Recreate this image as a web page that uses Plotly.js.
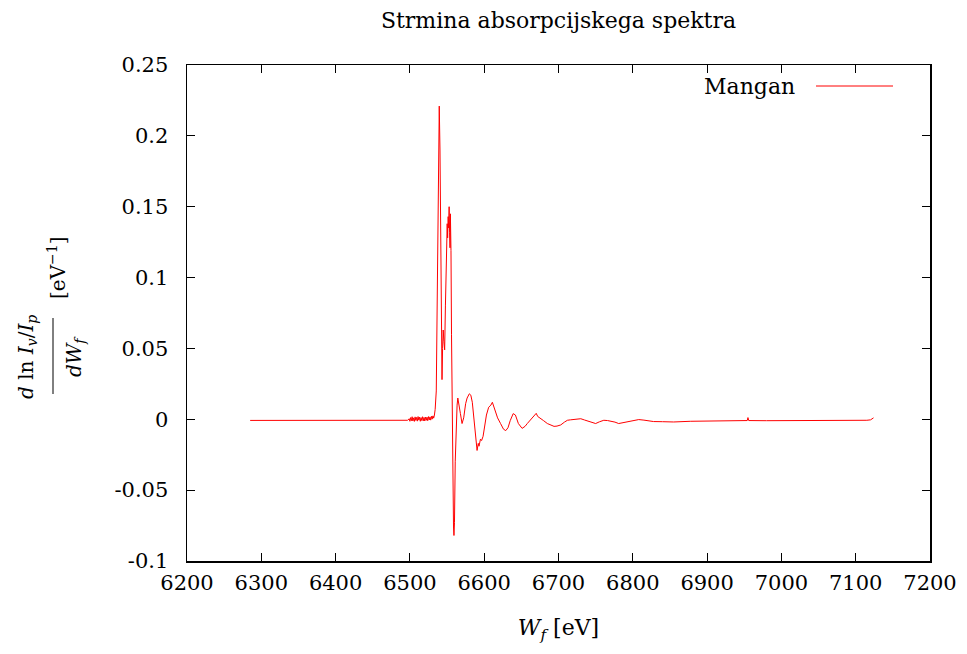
<!DOCTYPE html>
<html>
<head>
<meta charset="utf-8">
<script src="https://cdn.plot.ly/plotly-3.0.1.min.js"></script>
<style>html,body{margin:0;padding:0;background:#fff;}#chart{width:967px;height:654px;}</style>
</head>
<body>
<div id="chart"></div>
<script>
// Photon energy W_f [eV]
const energy = [
  6285, 6350, 6420, 6480, 6497,
  6499, 6500, 6501, 6502, 6503, 6504, 6505, 6506, 6507, 6508, 6509, 6510, 6511, 6512, 6513, 6514,
  6515, 6516, 6517, 6518, 6519, 6520, 6521, 6522, 6523, 6524, 6525, 6526, 6527, 6528, 6529, 6530,
  6531, 6532, 6533, 6534, 6535.5, 6537, 6538.5, 6539.5, 6540.5, 6541.5, 6542.5, 6543.2, 6544, 6544.8, 6545.8,
  6546.8, 6547.8, 6548.7, 6549.5, 6550.2, 6550.8, 6551.5, 6552.2, 6552.8, 6553.4, 6554.0, 6554.5,
  6555.3, 6556.0, 6557.0, 6558.0, 6558.7, 6559.3, 6560.0, 6561.0, 6562.0, 6563.5, 6564.5, 6566.0,
  6568, 6570.2, 6572.4, 6575, 6577, 6580, 6582, 6584, 6586.8, 6588.5, 6590.4, 6592, 6593, 6595,
  6596.5, 6598.5, 6601, 6603, 6606, 6609, 6611, 6613, 6615, 6618, 6622, 6626, 6629, 6632, 6635,
  6639, 6642, 6646, 6651, 6655, 6658, 6664.6, 6668, 6670, 6672, 6676, 6680, 6685, 6690, 6694,
  6698, 6703, 6708, 6712, 6716, 6721, 6725, 6730, 6735, 6739, 6744, 6750, 6755, 6761, 6766, 6771,
  6776, 6781, 6787, 6793, 6800, 6808, 6815, 6828, 6840, 6855, 6878, 6900, 6918, 6940, 6954, 6955,
  6956, 6980, 7000, 7030, 7053, 7080, 7100, 7115, 7120, 7124
];
// Slope of the absorption spectrum d ln(Iv/Ip)/dWf [1/eV] for manganese
const mangan = [
  -0.0008, -0.0008, -0.0009, -0.0008, -0.0007,
  0.0004, -0.0014, 0.0012, -0.0010, 0.0018, -0.0012, 0.0010, -0.0015, 0.0017, -0.0008, 0.0013, -0.0013, 0.0019, -0.0006, 0.0015, -0.0014,
  0.0012, -0.0009, 0.0018, -0.0011, 0.0013, -0.0012, 0.0016, -0.0007, 0.0015, -0.0010, 0.0019, -0.0005, 0.0017, -0.0006, 0.0021, 0.0001,
  0.0024, 0.0008, 0.0030, 0.0070, 0.020, 0.080, 0.180, 0.221, 0.190, 0.100, 0.045, 0.028, 0.050, 0.063, 0.055,
  0.049, 0.080, 0.112, 0.125, 0.138, 0.128, 0.143, 0.135, 0.150, 0.132, 0.121, 0.145,
  0.119, 0.060, -0.020, -0.068, -0.076, -0.082, -0.073, -0.030, -0.003, 0.010, 0.015, 0.011,
  0.004, -0.003, 0.001, 0.011, 0.015, 0.018, 0.017, 0.012, -0.003, -0.016, -0.022, -0.017, -0.019, -0.014,
  -0.015, -0.012, -0.002, 0.003, 0.0085, 0.010, 0.012, 0.009, 0.006, 0.001, -0.003, -0.007, -0.008, -0.006, -0.001,
  0.004, 0.003, -0.003, -0.0064, -0.005, -0.003, 0.0014, 0.003, 0.0042, 0.002, 0.0007, -0.001, -0.003, -0.004, -0.005,
  -0.0048, -0.004, -0.002, -0.0007, -0.0004, 0.0, 0.0005, 0.0004, -0.0005, -0.0012, -0.0022, -0.003, -0.0018, -0.0007, -0.0009, -0.0012,
  -0.002, -0.003, -0.0024, -0.0016, -0.0008, -0.0002, -0.0006, -0.0016, -0.0017, -0.0019, -0.0014, -0.0013, -0.0011, -0.0011, -0.0009, 0.0012,
  -0.0009, -0.0010, -0.0010, -0.0009, -0.0009, -0.0008, -0.0007, -0.0007, -0.0004, 0.0010
];
const xTickVals = [6200, 6300, 6400, 6500, 6600, 6700, 6800, 6900, 7000, 7100, 7200];
const xTickText = ["6200", "6300", "6400", "6500", "6600", "6700", "6800", "6900", "7000", "7100", "7200"];
const yTickVals = [-0.1, -0.05, 0, 0.05, 0.1, 0.15, 0.2, 0.25];
const yTickText = ["-0.1", "-0.05", "0", "0.05", "0.1", "0.15", "0.2", "0.25"];
const seriesName = "Mangan";
const chartTitle = "Strmina absorpcijskega spektra";

const FONT = "DejaVu Serif, Liberation Serif, serif";
const L = 187, R = 930, T = 65, B = 561;
const px = v => (v - L) / (R - L);
const py = v => (B - v) / (B - T);

const trace = {
  x: energy, y: mangan, type: "scatter", mode: "lines", name: seriesName,
  line: {color: "#ff0000", width: 1}, showlegend: false
};

const axisCommon = {
  showgrid: false, zeroline: false, showline: true, linecolor: "#000", linewidth: 1.5,
  mirror: "ticks", ticks: "inside", ticklen: 8, tickwidth: 1, tickcolor: "#000",
  tickfont: {family: FONT, size: 21, color: "#000"}
};

const layout = {
  width: 967, height: 654,
  margin: {l: L, r: 967 - R, t: T, b: 654 - B},
  paper_bgcolor: "#fff", plot_bgcolor: "#fff",
  font: {family: FONT, color: "#000"},
  title: {text: chartTitle, font: {family: FONT, size: 22, color: "#000"},
          xref: "paper", x: 0.5, xanchor: "center", yref: "container", y: 1 - 20 / 654, yanchor: "middle"},
  xaxis: Object.assign({}, axisCommon, {
    range: [6200, 7200], tickmode: "array", tickvals: xTickVals, ticktext: xTickText,
    ticklabelstandoff: 2,
    title: {text: "<i>W<sub>f</sub></i> [eV]", font: {family: FONT, size: 22, color: "#000"}, standoff: 26}
  }),
  yaxis: Object.assign({}, axisCommon, {
    range: [-0.1, 0.25], tickmode: "array", tickvals: yTickVals, ticktext: yTickText,
    ticklabelstandoff: 13
  }),
  annotations: [
    {xref: "paper", yref: "paper", x: px(27), y: py(357), text: "<i>d</i> ln <i>I<sub>v</sub></i>/<i>I<sub>p</sub></i>",
     textangle: -90, showarrow: false, xanchor: "center", yanchor: "middle",
     font: {family: FONT, size: 20, color: "#000"}},
    {xref: "paper", yref: "paper", x: px(75), y: py(357), text: "<i>dW<sub>f</sub></i>",
     textangle: -90, showarrow: false, xanchor: "center", yanchor: "middle",
     font: {family: FONT, size: 20, color: "#000"}},
    {xref: "paper", yref: "paper", x: px(57), y: py(268), text: "[eV<sup>−1</sup>]",
     textangle: -90, showarrow: false, xanchor: "center", yanchor: "middle",
     font: {family: FONT, size: 20, color: "#000"}},
    {xref: "paper", yref: "paper", x: px(797), y: py(86), text: seriesName,
     showarrow: false, xanchor: "right", yanchor: "middle",
     font: {family: FONT, size: 22, color: "#000"}}
  ],
  shapes: [
    {type: "line", xref: "paper", yref: "paper", x0: px(53), x1: px(53), y0: py(394), y1: py(318),
     line: {color: "#000", width: 1}},
    {type: "line", xref: "paper", yref: "paper", x0: px(816), x1: px(893), y0: py(86), y1: py(86),
     line: {color: "#ff0000", width: 1}}
  ]
};

Plotly.newPlot("chart", [trace], layout, {displayModeBar: false, staticPlot: true});
</script>
</body>
</html>
